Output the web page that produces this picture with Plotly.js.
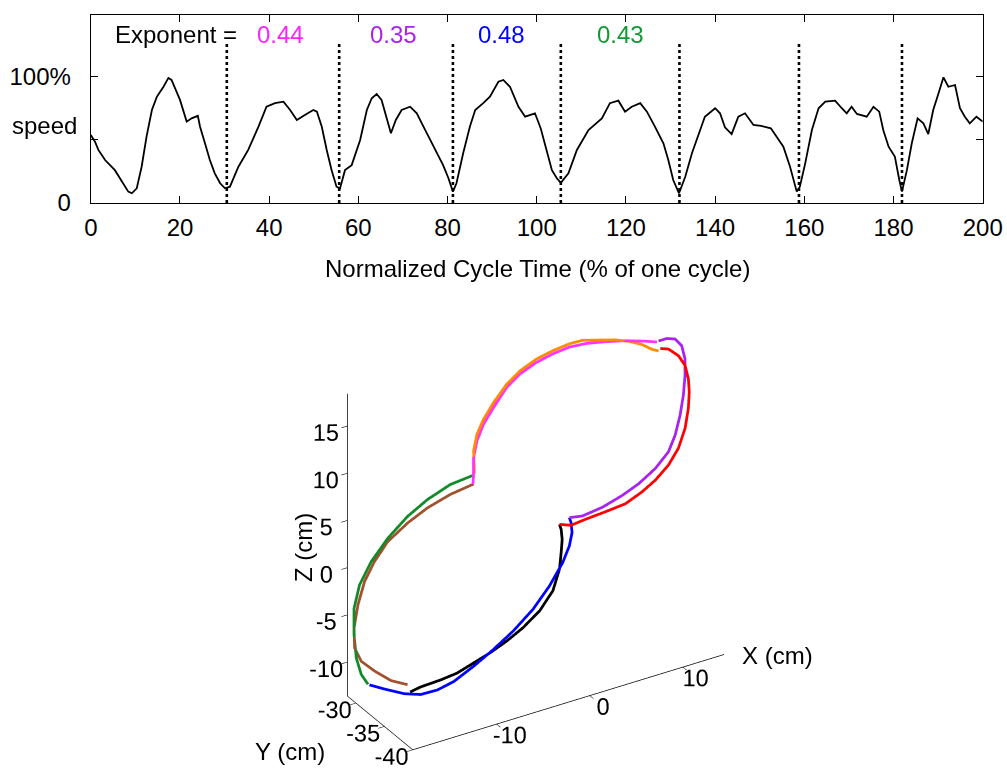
<!DOCTYPE html>
<html><head><meta charset="utf-8">
<script src="https://cdn.plot.ly/plotly-3.0.1.min.js"></script>
<style>html,body{margin:0;padding:0;background:#fff}#chart{width:1007px;height:770px}</style>
</head><body><div id="chart"></div>
<script>
// ---- top panel: speed along the normalized cycle ----
const cycleTime = [0,0.94,1.7,3.2,5.4,6.9,8.4,9.2,10.3,11.4,12.5,13.7,14.8,16.3,17.4,18.1,18.9,20,21.5,22.6,24,24.5,25.6,26.7,27.8,29,30.1,31.2,33.1,35.3,37.6,39.4,41.3,43.2,44.7,46.2,48,49.9,50.7,51.8,52.9,54,55.1,55.9,57,58.5,60.4,61.9,63,64.1,65.2,66.5,67.3,68.4,69.7,71.6,73.1,74.6,76.1,77.6,79,80.2,81.2,82,83.5,85,86.2,88,89.5,91.4,92.5,94,95.9,97.4,99.6,100.9,102.1,103.4,104.5,105.4,107.1,109,111.6,114.6,116.4,118.3,119.8,121.3,123.2,124.7,126.5,128.4,129.5,130.6,131.9,133.3,134.8,136.3,137.7,140,141.1,142.2,143.7,145.2,146.7,148.6,150.3,152.5,154.2,155.3,156.8,158.3,159,160.2,161.7,163.2,164.7,166.9,168.4,169.5,170.6,171.8,174,175.5,176.8,177.7,178.9,180.3,181.3,181.9,183,184.1,185.4,186.7,187.8,188.9,190.1,191.2,192.3,193.8,194.9,196,197.1,198.6,200];
const speed = [53.8,48.5,42,34,26,18,9,7.7,11.6,28.7,52.5,73.6,84,92,99,97.4,90.8,81.6,64.4,67,69,60.4,47.3,34,23.5,15.6,11.6,12.9,28.7,42,60.4,76.2,79,80.2,73.6,65.7,69.7,73.6,72.3,60.4,42,26,12.9,11.6,26,30,49.9,73.6,82.9,86.3,81.6,65.7,55.2,65.7,73.6,76.2,71,60.4,49.9,39.4,30,19.6,9,15.6,39.4,60.4,73.6,79,84.2,96,97.4,92,76.2,68.3,71,59,42,26,19.6,16,23.5,42,57.8,67,79,81,72.3,76.2,79,72.3,60.4,47.3,34,18.2,7.7,20.8,39.4,55.2,68.3,75,71,59.9,54.6,68.3,71,61.8,61,59.1,49.9,44.6,28.7,9,12.9,31.4,57.8,75,80.2,81,75,71,76.2,70.5,68.3,76.2,72.3,57.8,44.6,36.7,18.2,9,26,47.3,67,63.1,54.6,73.6,86.9,99.5,92,93.4,75,68.3,63.1,68.3,64.4];
const dividers = [30.5,55.7,81.2,105.4,132.0,158.8,181.9];
const dividerTop = 126.4;
const exponentLabels = ['0.44','0.35','0.48','0.43'];
const exponentX = [42.5,67.8,92.2,118.7];
const exponentColors = ['#ff22ff','#aa22ee','#0000ff','#119933'];
const xTicks = [0,20,40,60,80,100,120,140,160,180,200];
const yTicks = [0,50,100];
const yTickText = ['0','','100%'];

// ---- bottom panel: 3D hand path (cm), eight segments ----
const blackX = [-14.40,-13.26,-11.14,-9.36,-7.59,-5.82,-4.04,-2.27,-0.50,0.92,1.63,1.81,1.92,1.81,1.63];
const blackY = [-32,-32,-32,-32,-32,-32,-32,-32,-32,-32,-32,-32,-32,-32,-32];
const blackZ = [-12.83,-12.63,-12.54,-12.35,-11.81,-11.27,-10.57,-9.67,-8.43,-6.74,-4.66,-2.96,-1.59,-0.50,0.08];

const redX = [-0.20,1.04,2.64,4.77,6.89,8.66,10.09,11.50,12.56,13.28,13.63,13.73,13.63,13.28,12.56,11.50,10.62];
const redY = [-35,-35,-35,-35,-35,-35,-35,-35,-35,-35,-35,-35,-35,-35,-35,-35,-35];
const redZ = [2.12,1.65,1.82,1.97,2.17,2.89,3.70,4.87,6.32,8.21,10.22,11.95,13.38,14.88,16.14,17.15,17.48];

const orangeX = [13.49,12.78,11.71,10.30,8.88,7.11,5.33,3.91,2.14,0.37,-1.40,-2.82,-4.24,-5.31,-6.01,-6.37,-6.30,-6.30];
const orangeY = [-30,-30,-30,-30,-30,-30,-30,-30,-30,-30,-30,-30,-30,-30,-30,-30,-30,-30];
const orangeZ = [13.88,14.26,15.10,15.86,16.44,16.96,17.47,17.53,17.34,16.98,16.26,15.27,13.75,12.31,10.93,9.28,7.50,6.81];

const greenX = [-5.69,-8.24,-10.72,-12.85,-14.97,-16.75,-18.00,-18.59,-18.59,-18.35,-17.82,-17.10];
const greenY = [-29,-29,-29,-29,-29,-29,-29,-29,-29,-29,-29,-29];
const greenZ = [6.05,5.81,4.95,3.81,2.14,0.20,-1.89,-4.18,-6.98,-9.51,-11.41,-12.67];

const blueX = [-18.89,-17.29,-15.16,-13.39,-11.61,-9.84,-7.72,-5.59,-3.46,-1.33,0.44,1.86,2.57,2.86,2.75,2.57];
const blueY = [-32.2,-32.2,-32.2,-32.2,-32.2,-32.2,-32.2,-32.2,-32.2,-32.2,-32.2,-32.2,-32.2,-32.2,-32.2,-32.2];
const blueZ = [-10.62,-11.54,-12.68,-13.30,-13.36,-13.00,-12.03,-10.89,-9.58,-7.91,-5.97,-3.92,-2.38,-1.05,0.03,0.61];

const purpleX = [1.17,2.58,4.71,6.84,8.61,10.39,11.81,12.52,13.05,13.40,13.58,13.58,13.22,12.52,11.63,10.74];
const purpleY = [-34.5,-34.5,-34.5,-34.5,-34.5,-34.5,-34.5,-34.5,-34.5,-34.5,-34.5,-34.5,-34.5,-34.5,-34.5,-34.5];
const purpleZ = [2.17,1.93,2.20,2.81,3.52,4.59,5.94,7.48,9.43,11.43,13.49,15.24,16.75,17.66,17.99,17.99];

const magentaX = [13.31,12.07,9.95,7.82,5.69,3.91,2.14,0.37,-1.40,-2.82,-4.24,-5.31,-6.01,-6.37,-6.37,-6.44];
const magentaY = [-30,-30,-30,-30,-30,-30,-30,-30,-30,-30,-30,-30,-30,-30,-30,-30];
const magentaZ = [14.88,15.34,16.03,16.57,17.02,17.18,17.00,16.62,15.92,14.92,13.22,11.78,10.23,8.58,6.83,5.79];

const brownX = [-5.76,-8.24,-10.72,-12.85,-14.97,-16.40,-17.46,-18.17,-18.59,-18.53,-17.82,-16.40,-14.62,-13.76];
const brownY = [-29,-29,-29,-29,-29,-29,-29,-29,-29,-29,-29,-29,-29,-30.5];
const brownZ = [5.10,4.76,4.07,3.11,1.79,0.10,-1.69,-3.94,-6.28,-8.41,-10.02,-11.48,-13.04,-12.99];

const segmentColors = ['#000000','#ff0000','#ff8c00','#118a2a','#0000ff','#aa22ee','#ff33ff','#a0522d'];
const xRange = [-19, 14.4], yRange = [-40, -28.5], zRange = [-13.6, 18.4];
const xTicks3 = [-10,0,10], xTickText3 = ['-10','0','10'];
const yTicks3 = [-40,-35,-30], yTickText3 = ['-40','-35','-30'];
const zTicks3 = [-10,-5,0,5,10,15], zTickText3 = ['-10','-5','0','5','10','15'];

const FONT = 'Liberation Sans, Arial, Helvetica, sans-serif';
const FS = 24;
const FS3 = 16.8;   // gl tick text size that renders close to the svg text size

// divider polyline built from dividers array
const divX = [], divY = [];
dividers.forEach(d => { divX.push(d, d, null); divY.push(0, dividerTop, null); });

const traces = [
  {type:'scatter', mode:'lines', x: cycleTime, y: speed, line:{color:'#000', width:1.8}, xaxis:'x', yaxis:'y', hoverinfo:'skip'},
  {type:'scatter', mode:'lines', x: divX, y: divY, line:{color:'#000', width:2.6, dash:'dot'}, xaxis:'x', yaxis:'y', hoverinfo:'skip'}
];
const segs = [[blackX,blackY,blackZ],[redX,redY,redZ],[orangeX,orangeY,orangeZ],[greenX,greenY,greenZ],
              [blueX,blueY,blueZ],[purpleX,purpleY,purpleZ],[magentaX,magentaY,magentaZ],[brownX,brownY,brownZ]];
segs.forEach((s,i) => traces.push({type:'scatter3d', mode:'lines', x:s[0], y:s[1], z:s[2],
  line:{color:segmentColors[i], width:5.5}, hoverinfo:'skip', scene:'scene'}));

const annotations = [
  {xref:'x', yref:'y', x:19.1, y:133, text:'Exponent =', showarrow:false, font:{family:FONT,size:FS,color:'#000'}, xanchor:'center', yanchor:'middle'}
];
exponentLabels.forEach((t,i) => annotations.push({xref:'x', yref:'y', x:exponentX[i], y:133, text:t, showarrow:false,
  font:{family:FONT,size:FS,color:exponentColors[i]}, xanchor:'center', yanchor:'middle'}));
annotations.push(
  {xref:'paper', yref:'paper', x:44.7/1007, y:1-125/770, text:'speed', showarrow:false, font:{family:FONT,size:FS,color:'#000'}, xanchor:'center', yanchor:'middle'},
  {xref:'paper', yref:'paper', x:537/1007, y:1-268/770, text:'Normalized Cycle Time (% of one cycle)', showarrow:false, font:{family:FONT,size:FS,color:'#000'}, xanchor:'center', yanchor:'middle'},
  {xref:'paper', yref:'paper', x:777/1007, y:1-655/770, text:'X (cm)', showarrow:false, font:{family:FONT,size:FS,color:'#000'}, xanchor:'center', yanchor:'middle'},
  {xref:'paper', yref:'paper', x:290/1007, y:1-751/770, text:'Y (cm)', showarrow:false, font:{family:FONT,size:FS,color:'#000'}, xanchor:'center', yanchor:'middle'},
  {xref:'paper', yref:'paper', x:303/1007, y:1-548/770, text:'Z (cm)', textangle:-90, showarrow:false, font:{family:FONT,size:FS,color:'#000'}, xanchor:'center', yanchor:'middle'}
);

const L = 1.45;
const zoom = 1.657;
const ax3 = (range, tickvals, ticktext) => ({range, autorange:false, tickvals, ticktext, showgrid:false, zeroline:false, showbackground:false,
  showline:true, linecolor:'#000', linewidth:1.5, ticks:'outside', ticklen:7, tickwidth:1.2, tickcolor:'#000', tickangle:0,
  showspikes:false, title:{text:''}, tickfont:{family:FONT, size:FS3, color:'#000'}});

const eyeDir = [-0.451, -0.739, 0.502];
const upDir = [0.25, 0.435, 0.864];
const spanX = xRange[1]-xRange[0];
const shift = -26 / 221.7;   // view shift (scene units) so the box sits 26px higher inside a lowered domain
const ctr = {x:upDir[0]*shift, y:upDir[1]*shift, z:upDir[2]*shift};

const layout = {
  width:1007, height:770, margin:{l:0,r:0,t:0,b:0}, paper_bgcolor:'#fff', plot_bgcolor:'#fff',
  showlegend:false, hovermode:false, font:{family:FONT, size:FS, color:'#000'},
  xaxis:{domain:[90.8/1007, 982.7/1007], range:[0,200], tickvals:xTicks, ticks:'inside', ticklen:7, tickwidth:1, tickcolor:'#000',
    showline:true, linecolor:'#000', linewidth:1.3, mirror:'ticks', showgrid:false, zeroline:false,
    tickfont:{family:FONT,size:FS,color:'#000'}, ticklabelstandoff:3, anchor:'y'},
  yaxis:{domain:[1-203/770, 1-15/770], range:[0,148.8], tickvals:yTicks, ticktext:yTickText, ticks:'inside', ticklen:7, tickwidth:1, tickcolor:'#000',
    showline:true, linecolor:'#000', linewidth:1.3, mirror:'ticks', showgrid:false, zeroline:false,
    tickfont:{family:FONT,size:FS,color:'#000'}, ticklabelstandoff:14, anchor:'x'},
  scene:{domain:{x:[276/1007, 796/1007], y:[0, 440/770]},
    aspectmode:'manual',
    aspectratio:{x:zoom, y:zoom*(yRange[1]-yRange[0])/spanX, z:zoom*(zRange[1]-zRange[0])/spanX},
    camera:{eye:{x:eyeDir[0]*L+ctr.x, y:eyeDir[1]*L+ctr.y, z:eyeDir[2]*L+ctr.z}, center:ctr, up:{x:0,y:0,z:1}, projection:{type:'orthographic'}},
    xaxis:ax3(xRange,xTicks3,xTickText3), yaxis:ax3(yRange,yTicks3,yTickText3), zaxis:ax3(zRange,zTicks3,zTickText3)},
  annotations
};
Plotly.newPlot('chart', traces, layout, {displayModeBar:false});
</script></body></html>
